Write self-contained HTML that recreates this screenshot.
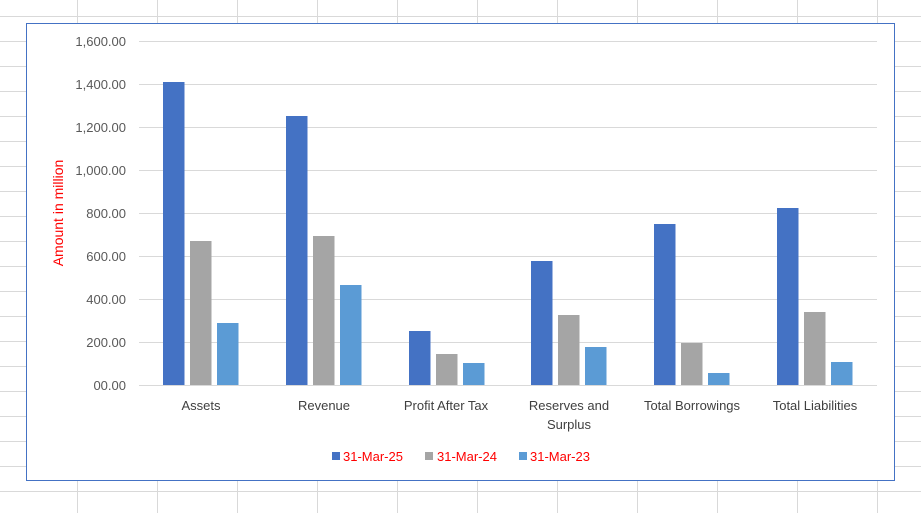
<!DOCTYPE html>
<html><head><style>
body{margin:0;background:#fff;}
svg text{font-family:"Liberation Sans",Arial,sans-serif;}
</style></head><body>
<svg width="921" height="513" xmlns="http://www.w3.org/2000/svg">
<g stroke="#d9d9d9" stroke-width="1">
<line x1="77.5" y1="0" x2="77.5" y2="513"/><line x1="157.5" y1="0" x2="157.5" y2="513"/><line x1="237.5" y1="0" x2="237.5" y2="513"/><line x1="317.5" y1="0" x2="317.5" y2="513"/><line x1="397.5" y1="0" x2="397.5" y2="513"/><line x1="477.5" y1="0" x2="477.5" y2="513"/><line x1="557.5" y1="0" x2="557.5" y2="513"/><line x1="637.5" y1="0" x2="637.5" y2="513"/><line x1="717.5" y1="0" x2="717.5" y2="513"/><line x1="797.5" y1="0" x2="797.5" y2="513"/><line x1="877.5" y1="0" x2="877.5" y2="513"/>
<line x1="0" y1="16.5" x2="921" y2="16.5"/><line x1="0" y1="41.5" x2="921" y2="41.5"/><line x1="0" y1="66.5" x2="921" y2="66.5"/><line x1="0" y1="91.5" x2="921" y2="91.5"/><line x1="0" y1="116.5" x2="921" y2="116.5"/><line x1="0" y1="141.5" x2="921" y2="141.5"/><line x1="0" y1="166.5" x2="921" y2="166.5"/><line x1="0" y1="191.5" x2="921" y2="191.5"/><line x1="0" y1="216.5" x2="921" y2="216.5"/><line x1="0" y1="241.5" x2="921" y2="241.5"/><line x1="0" y1="266.5" x2="921" y2="266.5"/><line x1="0" y1="291.5" x2="921" y2="291.5"/><line x1="0" y1="316.5" x2="921" y2="316.5"/><line x1="0" y1="341.5" x2="921" y2="341.5"/><line x1="0" y1="366.5" x2="921" y2="366.5"/><line x1="0" y1="391.5" x2="921" y2="391.5"/><line x1="0" y1="416.5" x2="921" y2="416.5"/><line x1="0" y1="441.5" x2="921" y2="441.5"/><line x1="0" y1="466.5" x2="921" y2="466.5"/><line x1="0" y1="491.5" x2="921" y2="491.5"/>
</g>
<rect x="26.5" y="23.5" width="868" height="457" fill="#fff" stroke="#4472C4" stroke-width="1"/>
<g stroke="#d9d9d9" stroke-width="1">
<line x1="139" y1="41.5" x2="877" y2="41.5"/><line x1="139" y1="84.5" x2="877" y2="84.5"/><line x1="139" y1="127.5" x2="877" y2="127.5"/><line x1="139" y1="170.5" x2="877" y2="170.5"/><line x1="139" y1="213.5" x2="877" y2="213.5"/><line x1="139" y1="256.5" x2="877" y2="256.5"/><line x1="139" y1="299.5" x2="877" y2="299.5"/><line x1="139" y1="342.5" x2="877" y2="342.5"/><line x1="139" y1="385.5" x2="877" y2="385.5"/>
</g>
<g font-size="13" fill="#595959" text-anchor="end">
<text x="126" y="46">1,600.00</text><text x="126" y="89">1,400.00</text><text x="126" y="132">1,200.00</text><text x="126" y="175">1,000.00</text><text x="126" y="218">800.00</text><text x="126" y="261">600.00</text><text x="126" y="304">400.00</text><text x="126" y="347">200.00</text><text x="126" y="390">00.00</text>
</g>
<text transform="translate(63,213) rotate(-90)" font-size="14" fill="#ff0000" text-anchor="middle">Amount in million</text>
<g id="bars">
<rect x="163" y="82" width="21.5" height="303" fill="#4472C4"/><rect x="190" y="241" width="21.5" height="144" fill="#A5A5A5"/><rect x="217" y="323" width="21.5" height="62" fill="#5B9BD5"/>
<rect x="286" y="116" width="21.5" height="269" fill="#4472C4"/><rect x="313" y="236" width="21.5" height="149" fill="#A5A5A5"/><rect x="340" y="285" width="21.5" height="100" fill="#5B9BD5"/>
<rect x="409" y="331" width="21.5" height="54" fill="#4472C4"/><rect x="436" y="354" width="21.5" height="31" fill="#A5A5A5"/><rect x="463" y="363" width="21.5" height="22" fill="#5B9BD5"/>
<rect x="531" y="261" width="21.5" height="124" fill="#4472C4"/><rect x="558" y="315" width="21.5" height="70" fill="#A5A5A5"/><rect x="585" y="347" width="21.5" height="38" fill="#5B9BD5"/>
<rect x="654" y="224" width="21.5" height="161" fill="#4472C4"/><rect x="681" y="343" width="21.5" height="42" fill="#A5A5A5"/><rect x="708" y="373" width="21.5" height="12" fill="#5B9BD5"/>
<rect x="777" y="208" width="21.5" height="177" fill="#4472C4"/><rect x="804" y="312" width="21.5" height="73" fill="#A5A5A5"/><rect x="831" y="362" width="21.5" height="23" fill="#5B9BD5"/>
</g>
<g font-size="13" fill="#404040" text-anchor="middle">
<text x="201" y="410">Assets</text><text x="324" y="410">Revenue</text><text x="446" y="410">Profit After Tax</text><text x="569" y="410">Reserves and</text><text x="569" y="429">Surplus</text><text x="692" y="410">Total Borrowings</text><text x="815" y="410">Total Liabilities</text>
</g>
<g font-size="13" fill="#ff0000">
<rect x="332" y="452" width="8" height="8" fill="#4472C4"/><text x="343" y="461">31-Mar-25</text>
<rect x="425" y="452" width="8" height="8" fill="#A5A5A5"/><text x="437" y="461">31-Mar-24</text>
<rect x="519" y="452" width="8" height="8" fill="#5B9BD5"/><text x="530" y="461">31-Mar-23</text>
</g>
</svg>
</body></html>
